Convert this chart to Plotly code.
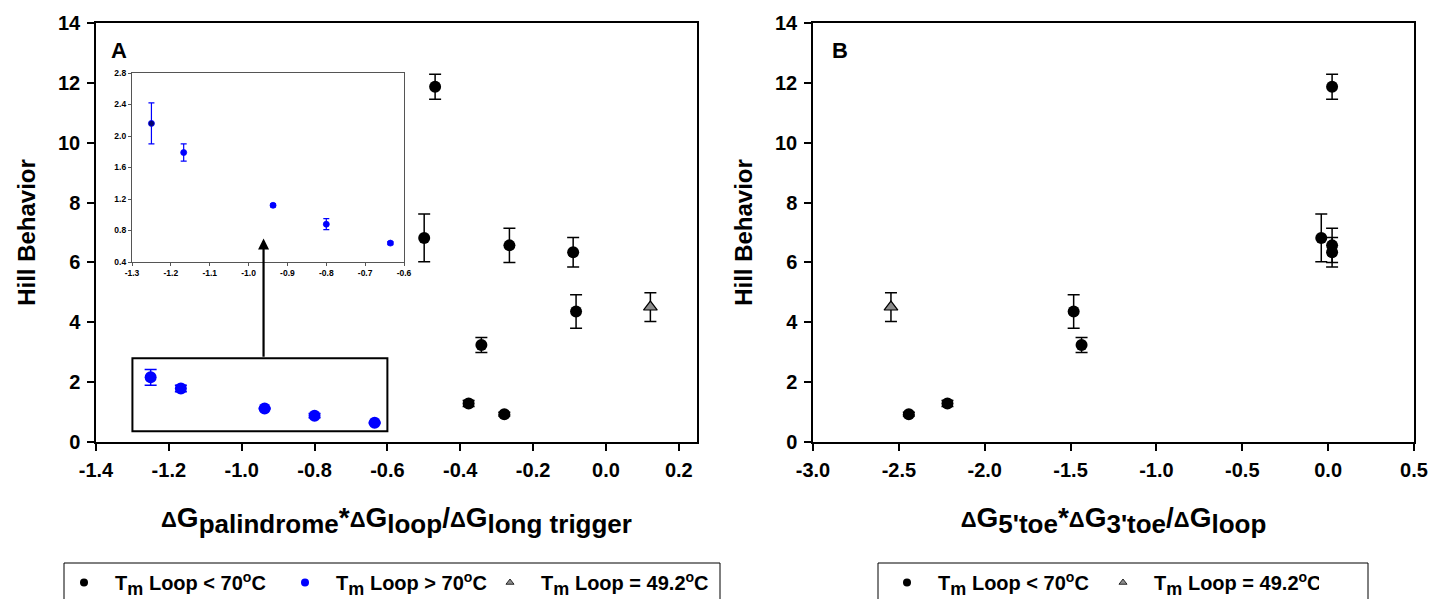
import plotly.graph_objects as go

# ---- data -------------------------------------------------------------
# Panel A: x = dG_palindrome*dG_loop/dG_long trigger
a_low_x = [-0.469, -0.499, -0.265, -0.090, -0.082, -0.342, -0.377, -0.279]
a_low_y = [11.87, 6.82, 6.57, 6.34, 4.36, 3.24, 1.29, 0.93]
a_low_err = [0.42, 0.80, 0.57, 0.49, 0.56, 0.25, 0.10, 0.06]

a_high_x = [-1.250, -1.167, -0.937, -0.800, -0.635]
a_high_y = [2.16, 1.79, 1.12, 0.88, 0.64]
a_high_err = [0.26, 0.11, 0.02, 0.07, 0.02]

a_tri_x = [0.122]
a_tri_y = [4.51]
a_tri_err = [0.48]

# Panel B: x = dG_5'toe*dG_3'toe/dG_loop
b_low_x = [0.023, -0.040, 0.023, 0.023, -1.482, -1.436, -2.217, -2.442]
b_low_y = a_low_y
b_low_err = a_low_err

b_tri_x = [-2.546]
b_tri_y = a_tri_y
b_tri_err = a_tri_err

# ---- tick labels --------------------------------------------------------
y_ticks = [0, 2, 4, 6, 8, 10, 12, 14]
y_ticklabels = ["0", "2", "4", "6", "8", "10", "12", "14"]
xa_ticks = [-1.4, -1.2, -1.0, -0.8, -0.6, -0.4, -0.2, 0.0, 0.2]
xa_ticklabels = ["-1.4", "-1.2", "-1.0", "-0.8", "-0.6", "-0.4", "-0.2", "0.0", "0.2"]
xb_ticks = [-3.0, -2.5, -2.0, -1.5, -1.0, -0.5, 0.0, 0.5]
xb_ticklabels = ["-3.0", "-2.5", "-2.0", "-1.5", "-1.0", "-0.5", "0.0", "0.5"]
inset_x_ticks = [-1.3, -1.2, -1.1, -1.0, -0.9, -0.8, -0.7, -0.6]
inset_x_ticklabels = ["-1.3", "-1.2", "-1.1", "-1.0", "-0.9", "-0.8", "-0.7", "-0.6"]
inset_y_ticks = [0.4, 0.8, 1.2, 1.6, 2.0, 2.4, 2.8]
inset_y_ticklabels = ["0.4", "0.8", "1.2", "1.6", "2.0", "2.4", "2.8"]

SUB_LEG = "<sub><span style='font-size:18px'>m</span></sub>"
PAD = "\u00a0\u00a0"
legend_labels = [f"<b>{PAD}T{SUB_LEG} Loop < 70<sup>o</sup>C</b>",
                 f"<b>{PAD}T{SUB_LEG} Loop > 70<sup>o</sup>C</b>",
                 f"<b>{PAD}T{SUB_LEG} Loop = 49.2<sup>o</sup>C</b>"]


def dg(sub):
    """Bold 'ΔG' with a large subscript, as used in the axis titles."""
    return ("<span style='font-size:22px'>Δ</span>G"
            f"<sub><span style='font-size:26px'>{sub}</span></sub>")


xa_title = "<b>" + dg("palindrome") + "*" + dg("loop") + "/" + dg("long trigger") + "</b>"
xb_title = "<b>" + dg("5'toe") + "*" + dg("3'toe") + "/" + dg("loop") + "</b>"

# ---- layout geometry (pixels on a 1432 x 599 page) ------------------
W, H = 1432, 599


def fx(px):
    return px / W


def fy(py):
    return (H - py) / H


BLUE = "#0000ff"
FONT = "Liberation Sans, Arial, sans-serif"

fig = go.Figure()


def err(vals, color, width=6, thick=1.5):
    return dict(type="data", array=vals, visible=True, color=color,
                thickness=thick, width=width)


# Panel A markers
fig.add_trace(go.Scatter(x=a_low_x, y=a_low_y, mode="markers", xaxis="x", yaxis="y",
                         marker=dict(symbol="circle", size=12, color="black"),
                         error_y=err(a_low_err, "black"), showlegend=False))
fig.add_trace(go.Scatter(x=a_high_x, y=a_high_y, mode="markers", xaxis="x", yaxis="y",
                         marker=dict(symbol="circle", size=12, color=BLUE),
                         error_y=err(a_high_err, BLUE), showlegend=False))
fig.add_trace(go.Scatter(x=a_tri_x, y=a_tri_y, mode="markers", xaxis="x", yaxis="y",
                         marker=dict(symbol="triangle-up", size=12, color="#8c8c8c",
                                     line=dict(color="black", width=1.2)),
                         error_y=err(a_tri_err, "black"), showlegend=False))

# Inset (zoom of the blue series)
inset_fill = ["#00006e", BLUE, BLUE, BLUE, BLUE]
fig.add_trace(go.Scatter(x=a_high_x, y=a_high_y, mode="markers", xaxis="x3", yaxis="y3",
                         marker=dict(symbol="circle", size=6, color=inset_fill,
                                     line=dict(color=BLUE, width=0.8)),
                         error_y=err(a_high_err, BLUE, width=3, thick=1.2),
                         showlegend=False))

# Panel B markers
fig.add_trace(go.Scatter(x=b_low_x, y=b_low_y, mode="markers", xaxis="x2", yaxis="y2",
                         marker=dict(symbol="circle", size=12, color="black"),
                         error_y=err(b_low_err, "black"), showlegend=False))
fig.add_trace(go.Scatter(x=b_tri_x, y=b_tri_y, mode="markers", xaxis="x2", yaxis="y2",
                         marker=dict(symbol="triangle-up", size=12, color="#8c8c8c",
                                     line=dict(color="black", width=1.2)),
                         error_y=err(b_tri_err, "black"), showlegend=False))

# Legend entries (panel A uses two legend groups so the third entry can sit
# further right inside the shared frame)
leg_marker = [dict(symbol="circle", size=8, color="black"),
              dict(symbol="circle", size=8, color=BLUE),
              dict(symbol="triangle-up", size=7, color="#8c8c8c",
                   line=dict(color="black", width=0.8))]
for i, leg in zip(range(3), ["legend", "legend", "legend3"]):
    fig.add_trace(go.Scatter(x=[None], y=[None], mode="markers", xaxis="x", yaxis="y",
                             marker=leg_marker[i], name=legend_labels[i], legend=leg))
for i in (0, 2):
    fig.add_trace(go.Scatter(x=[None], y=[None], mode="markers", xaxis="x2", yaxis="y2",
                             marker=leg_marker[i], name=legend_labels[i],
                             legend="legend2"))

tickfont = dict(family=FONT, size=20, color="black")
axis_common = dict(showline=True, linecolor="black", linewidth=1.5, mirror=True,
                   ticks="outside", ticklen=7, tickwidth=1.5, tickcolor="black",
                   showgrid=False, zeroline=False, tickfont=tickfont, automargin=False)

ytitle = dict(text="<b>Hill Behavior</b>", font=dict(family=FONT, size=24, color="black"),
              standoff=16)
xtitle_font = dict(family=FONT, size=28, color="black")

inset_common = dict(showline=True, linecolor="#555555", linewidth=1.2, mirror=True,
                    ticks="outside", ticklen=3, tickwidth=1, tickcolor="#555555",
                    showgrid=False, zeroline=False, automargin=False,
                    tickfont=dict(family=FONT, size=8.5, color="black"))

legend_common = dict(orientation="h", xanchor="left", yanchor="top",
                     xref="paper", yref="paper",
                     borderwidth=0, bgcolor="rgba(0,0,0,0)",
                     font=dict(family=FONT, size=20, color="black"),
                     itemsizing="trace")

fig.update_layout(
    width=W, height=H,
    margin=dict(l=0, r=0, t=0, b=0, autoexpand=False),
    paper_bgcolor="white", plot_bgcolor="white",
    font=dict(family=FONT, color="black"),
    xaxis=dict(domain=[fx(96), fx(697)], range=[-1.4, 0.25], anchor="y",
               tickvals=xa_ticks, ticktext=[f"<b>{t}</b>" for t in xa_ticklabels],
               ticklabelstandoff=2,
               title=dict(text=xa_title, font=xtitle_font, standoff=28),
               **axis_common),
    yaxis=dict(domain=[fy(442), fy(23)], range=[0, 14], anchor="x",
               tickvals=y_ticks, ticktext=[f"<b>{t}</b>" for t in y_ticklabels],
               ticklabelstandoff=3,
               title=ytitle, **axis_common),
    xaxis2=dict(domain=[fx(813), fx(1414)], range=[-3.0, 0.5], anchor="y2",
                tickvals=xb_ticks, ticktext=[f"<b>{t}</b>" for t in xb_ticklabels],
                ticklabelstandoff=2,
                title=dict(text=xb_title, font=xtitle_font, standoff=28),
                **axis_common),
    yaxis2=dict(domain=[fy(442), fy(23)], range=[0, 14], anchor="x2",
                tickvals=y_ticks, ticktext=[f"<b>{t}</b>" for t in y_ticklabels],
                ticklabelstandoff=3,
                title=ytitle, **axis_common),
    xaxis3=dict(domain=[fx(132), fx(404)], range=[-1.3, -0.6], anchor="y3",
                tickvals=inset_x_ticks, ticktext=[f"<b>{t}</b>" for t in inset_x_ticklabels],
                **inset_common),
    yaxis3=dict(domain=[fy(262), fy(73)], range=[0.4, 2.8], anchor="x3",
                tickvals=inset_y_ticks, ticktext=[f"<b>{t}</b>" for t in inset_y_ticklabels],
                **inset_common),
    legend=dict(x=fx(64), y=fy(563), entrywidth=176, **legend_common),
    legend3=dict(x=fx(490), y=fy(563), **legend_common),
    legend2=dict(x=fx(887), y=fy(563), entrywidth=171, **legend_common),
)

# Legend frames (bottom edge runs past the page)
for left, right in ((64, 720), (878, 1368)):
    fig.add_shape(type="rect", xref="paper", yref="paper",
                  x0=fx(left), x1=fx(right), y0=fy(612), y1=fy(563),
                  line=dict(color="black", width=1), fillcolor="rgba(0,0,0,0)")

# Inset axes need a white background over the main plot area
fig.add_shape(type="rect", xref="x3 domain", yref="y3 domain", x0=0, x1=1, y0=0, y1=1,
              fillcolor="white", line=dict(width=0), layer="below")

# Frame around the zoomed region and arrow to the inset
fig.add_shape(type="rect", xref="x", yref="y", x0=-1.3, x1=-0.6, y0=0.36, y1=2.8,
              line=dict(color="black", width=2), layer="above")
fig.add_annotation(xref="x", yref="y", axref="x", ayref="y",
                   x=-0.94, y=6.8, ax=-0.94, ay=2.8, text="", showarrow=True,
                   arrowhead=2, arrowsize=1, arrowwidth=2.2, arrowcolor="black")

# Panel letters
fig.add_annotation(xref="x domain", yref="y domain", x=0.022, y=0.97, xanchor="left",
                   yanchor="top", text="<b>A</b>", showarrow=False,
                   font=dict(family=FONT, size=22, color="black"))
fig.add_annotation(xref="x2 domain", yref="y2 domain", x=0.028, y=0.97, xanchor="left",
                   yanchor="top", text="<b>B</b>", showarrow=False,
                   font=dict(family=FONT, size=22, color="black"))

fig.write_html("out.html")
